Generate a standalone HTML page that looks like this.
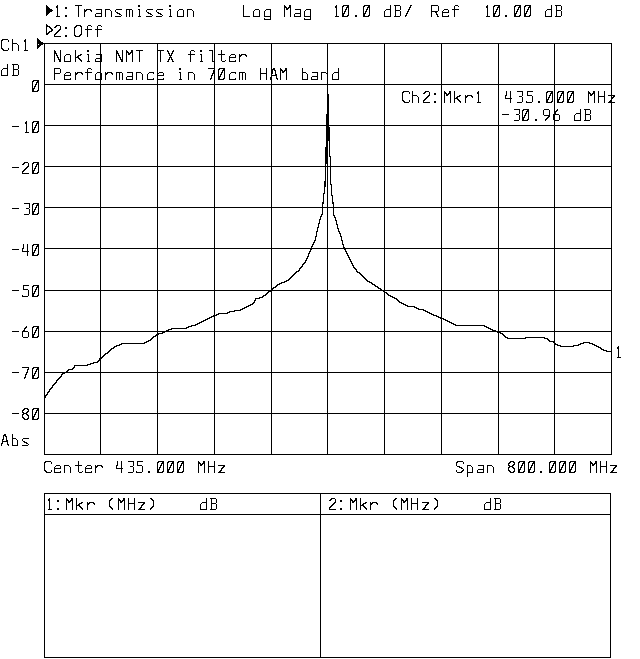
<!DOCTYPE html>
<html lang="en"><head><meta charset="utf-8"><title>Nokia NMT TX filter - Transmission Log Mag</title>
<style>
html,body{margin:0;padding:0;background:#fff}
body{width:640px;height:659px;overflow:hidden;position:relative;font-family:"Liberation Mono",monospace}
svg{position:absolute;left:0;top:0;display:block}
.t{position:absolute;margin:0;white-space:pre;font-size:17px;line-height:14px;height:14px;color:transparent;letter-spacing:0}
</style></head><body>
<svg width="640" height="659" viewBox="0 0 640 659" shape-rendering="crispEdges">
<defs>
<path id="g1" d="M4 0h2v1h-2zM3 1h2v1h-2zM2 2h2v1h-2zM2 3h1v1h-1zM2 4h1v1h-1zM2 5h1v1h-1zM2 6h1v1h-1zM2 7h1v1h-1zM2 8h2v1h-2zM3 9h2v1h-2zM4 10h2v1h-2zM5 11h1v1h-1z"/>
<path id="g2" d="M2 0h2v1h-2zM3 1h2v1h-2zM4 2h2v1h-2zM5 3h1v1h-1zM5 4h1v1h-1zM5 5h1v1h-1zM5 6h1v1h-1zM5 7h1v1h-1zM4 8h2v1h-2zM3 9h2v1h-2zM2 10h2v1h-2zM2 11h1v1h-1z"/>
<path id="g3" d="M0 5h7v1h-7z"/>
<path id="g4" d="M2 10h2v1h-2zM2 11h2v1h-2z"/>
<path id="g5" d="M5 0h2v1h-2zM5 1h1v1h-1zM4 2h2v1h-2zM4 3h1v1h-1zM3 4h2v1h-2zM3 5h1v1h-1zM2 6h2v1h-2zM2 7h1v1h-1zM1 8h2v1h-2zM1 9h1v1h-1zM0 10h2v1h-2zM0 11h1v1h-1z"/>
<path id="g6" d="M1 0h6v1h-6zM0 1h2v1h-2zM5 1h2v1h-2zM0 2h1v1h-1zM4 2h3v1h-3zM0 3h1v1h-1zM4 3h1v1h-1zM6 3h1v1h-1zM0 4h1v1h-1zM3 4h2v1h-2zM6 4h1v1h-1zM0 5h1v1h-1zM3 5h1v1h-1zM6 5h1v1h-1zM0 6h1v1h-1zM2 6h2v1h-2zM6 6h1v1h-1zM0 7h1v1h-1zM2 7h1v1h-1zM6 7h1v1h-1zM0 8h3v1h-3zM6 8h1v1h-1zM0 9h2v1h-2zM6 9h1v1h-1zM0 10h2v1h-2zM5 10h2v1h-2zM0 11h6v1h-6z"/>
<path id="g7" d="M3 0h1v1h-1zM2 1h2v1h-2zM2 2h2v1h-2zM3 3h1v1h-1zM3 4h1v1h-1zM3 5h1v1h-1zM3 6h1v1h-1zM3 7h1v1h-1zM3 8h1v1h-1zM3 9h1v1h-1zM3 10h1v1h-1zM2 11h4v1h-4z"/>
<path id="g8" d="M2 0h4v1h-4zM1 1h2v1h-2zM6 1h1v1h-1zM0 2h2v1h-2zM6 2h1v1h-1zM6 3h1v1h-1zM5 4h2v1h-2zM4 5h2v1h-2zM3 6h2v1h-2zM2 7h2v1h-2zM1 8h2v1h-2zM0 9h2v1h-2zM0 10h1v1h-1zM0 11h7v1h-7z"/>
<path id="g9" d="M2 0h6v1h-6zM7 1h1v1h-1zM7 2h1v1h-1zM7 3h1v1h-1zM7 4h1v1h-1zM4 5h3v1h-3zM7 6h1v1h-1zM7 7h1v1h-1zM7 8h1v1h-1zM7 9h1v1h-1zM7 10h1v1h-1zM2 11h5v1h-5z"/>
<path id="g10" d="M1 0h1v1h-1zM5 0h1v1h-1zM1 1h1v1h-1zM5 1h1v1h-1zM1 2h1v1h-1zM5 2h1v1h-1zM1 3h1v1h-1zM5 3h1v1h-1zM0 4h2v1h-2zM5 4h1v1h-1zM0 5h1v1h-1zM5 5h1v1h-1zM0 6h1v1h-1zM5 6h1v1h-1zM0 7h7v1h-7zM5 8h1v1h-1zM5 9h1v1h-1zM5 10h1v1h-1zM5 11h1v1h-1z"/>
<path id="g11" d="M1 0h6v1h-6zM1 1h1v1h-1zM1 2h1v1h-1zM1 3h1v1h-1zM1 4h5v1h-5zM6 5h1v1h-1zM6 6h1v1h-1zM6 7h1v1h-1zM6 8h1v1h-1zM6 9h1v1h-1zM0 10h1v1h-1zM6 10h1v1h-1zM0 11h6v1h-6z"/>
<path id="g12" d="M4 0h1v1h-1zM3 1h2v1h-2zM2 2h2v1h-2zM2 3h1v1h-1zM1 4h2v1h-2zM0 5h6v1h-6zM0 6h1v1h-1zM6 6h1v1h-1zM0 7h1v1h-1zM6 7h1v1h-1zM0 8h1v1h-1zM6 8h1v1h-1zM0 9h1v1h-1zM6 9h1v1h-1zM0 10h1v1h-1zM6 10h1v1h-1zM1 11h5v1h-5z"/>
<path id="g13" d="M0 0h7v1h-7zM6 1h1v1h-1zM5 2h2v1h-2zM5 3h1v1h-1zM5 4h1v1h-1zM4 5h2v1h-2zM4 6h1v1h-1zM3 7h2v1h-2zM3 8h1v1h-1zM3 9h1v1h-1zM2 10h2v1h-2zM2 11h1v1h-1z"/>
<path id="g14" d="M2 0h4v1h-4zM1 1h2v1h-2zM5 1h2v1h-2zM0 2h2v1h-2zM6 2h1v1h-1zM0 3h1v1h-1zM5 3h2v1h-2zM0 4h2v1h-2zM4 4h2v1h-2zM1 5h4v1h-4zM0 6h2v1h-2zM4 6h2v1h-2zM0 7h1v1h-1zM5 7h2v1h-2zM0 8h1v1h-1zM6 8h1v1h-1zM0 9h2v1h-2zM6 9h1v1h-1zM1 10h2v1h-2zM5 10h2v1h-2zM2 11h4v1h-4z"/>
<path id="g15" d="M1 0h5v1h-5zM0 1h1v1h-1zM6 1h1v1h-1zM0 2h1v1h-1zM6 2h1v1h-1zM0 3h1v1h-1zM6 3h1v1h-1zM0 4h1v1h-1zM6 4h1v1h-1zM0 5h1v1h-1zM6 5h1v1h-1zM1 6h6v1h-6zM5 7h2v1h-2zM4 8h2v1h-2zM3 9h2v1h-2zM2 10h2v1h-2zM2 11h1v1h-1z"/>
<path id="g16" d="M1 2h2v1h-2zM1 3h2v1h-2zM1 10h2v1h-2zM1 11h2v1h-2z"/>
<path id="g17" d="M3 0h2v1h-2zM2 1h3v1h-3zM2 2h1v1h-1zM4 2h2v1h-2zM2 3h1v1h-1zM5 3h1v1h-1zM2 4h1v1h-1zM5 4h1v1h-1zM1 5h2v1h-2zM5 5h1v1h-1zM1 6h1v1h-1zM5 6h2v1h-2zM1 7h6v1h-6zM1 8h1v1h-1zM6 8h1v1h-1zM0 9h2v1h-2zM6 9h1v1h-1zM0 10h1v1h-1zM6 10h2v1h-2zM0 11h1v1h-1zM7 11h1v1h-1z"/>
<path id="g18" d="M0 0h6v1h-6zM1 1h1v1h-1zM6 1h1v1h-1zM1 2h1v1h-1zM6 2h1v1h-1zM1 3h1v1h-1zM6 3h1v1h-1zM1 4h1v1h-1zM6 4h1v1h-1zM1 5h5v1h-5zM1 6h1v1h-1zM6 6h1v1h-1zM1 7h1v1h-1zM6 7h1v1h-1zM1 8h1v1h-1zM6 8h1v1h-1zM1 9h1v1h-1zM6 9h1v1h-1zM1 10h1v1h-1zM6 10h1v1h-1zM0 11h6v1h-6z"/>
<path id="g19" d="M1 0h6v1h-6zM0 1h2v1h-2zM7 1h1v1h-1zM0 2h1v1h-1zM7 2h1v1h-1zM0 3h1v1h-1zM0 4h1v1h-1zM0 5h1v1h-1zM0 6h1v1h-1zM0 7h1v1h-1zM0 8h1v1h-1zM0 9h2v1h-2zM7 9h1v1h-1zM1 10h2v1h-2zM7 10h1v1h-1zM2 11h5v1h-5z"/>
<path id="g20" d="M0 0h1v1h-1zM6 0h1v1h-1zM0 1h1v1h-1zM6 1h1v1h-1zM0 2h1v1h-1zM6 2h1v1h-1zM0 3h1v1h-1zM6 3h1v1h-1zM0 4h1v1h-1zM6 4h1v1h-1zM0 5h7v1h-7zM0 6h1v1h-1zM6 6h1v1h-1zM0 7h1v1h-1zM6 7h1v1h-1zM0 8h1v1h-1zM6 8h1v1h-1zM0 9h1v1h-1zM6 9h1v1h-1zM0 10h1v1h-1zM6 10h1v1h-1zM0 11h1v1h-1zM6 11h1v1h-1z"/>
<path id="g21" d="M0 0h1v1h-1zM0 1h1v1h-1zM0 2h1v1h-1zM0 3h1v1h-1zM0 4h1v1h-1zM0 5h1v1h-1zM0 6h1v1h-1zM0 7h1v1h-1zM0 8h1v1h-1zM0 9h1v1h-1zM0 10h1v1h-1zM0 11h7v1h-7z"/>
<path id="g22" d="M0 0h1v1h-1zM5 0h2v1h-2zM0 1h2v1h-2zM5 1h2v1h-2zM0 2h3v1h-3zM4 2h3v1h-3zM0 3h1v1h-1zM2 3h3v1h-3zM6 3h1v1h-1zM0 4h1v1h-1zM2 4h2v1h-2zM6 4h1v1h-1zM0 5h1v1h-1zM6 5h1v1h-1zM0 6h1v1h-1zM6 6h1v1h-1zM0 7h1v1h-1zM6 7h1v1h-1zM0 8h1v1h-1zM6 8h1v1h-1zM0 9h1v1h-1zM6 9h1v1h-1zM0 10h1v1h-1zM6 10h1v1h-1zM0 11h1v1h-1zM6 11h1v1h-1z"/>
<path id="g23" d="M0 0h1v1h-1zM6 0h1v1h-1zM0 1h2v1h-2zM6 1h1v1h-1zM0 2h2v1h-2zM6 2h1v1h-1zM0 3h3v1h-3zM6 3h1v1h-1zM0 4h1v1h-1zM2 4h1v1h-1zM6 4h1v1h-1zM0 5h1v1h-1zM2 5h2v1h-2zM6 5h1v1h-1zM0 6h1v1h-1zM3 6h1v1h-1zM6 6h1v1h-1zM0 7h1v1h-1zM3 7h2v1h-2zM6 7h1v1h-1zM0 8h1v1h-1zM4 8h1v1h-1zM6 8h1v1h-1zM0 9h1v1h-1zM4 9h3v1h-3zM0 10h1v1h-1zM5 10h2v1h-2zM0 11h1v1h-1zM5 11h2v1h-2z"/>
<path id="g24" d="M2 0h5v1h-5zM1 1h2v1h-2zM6 1h2v1h-2zM0 2h2v1h-2zM7 2h1v1h-1zM0 3h1v1h-1zM7 3h1v1h-1zM0 4h1v1h-1zM7 4h1v1h-1zM0 5h1v1h-1zM7 5h1v1h-1zM0 6h1v1h-1zM7 6h1v1h-1zM0 7h1v1h-1zM7 7h1v1h-1zM0 8h1v1h-1zM7 8h1v1h-1zM0 9h1v1h-1zM6 9h2v1h-2zM0 10h2v1h-2zM5 10h2v1h-2zM1 11h5v1h-5z"/>
<path id="g25" d="M0 0h6v1h-6zM0 1h1v1h-1zM6 1h1v1h-1zM0 2h1v1h-1zM6 2h1v1h-1zM0 3h1v1h-1zM6 3h1v1h-1zM0 4h1v1h-1zM6 4h1v1h-1zM0 5h6v1h-6zM0 6h1v1h-1zM0 7h1v1h-1zM0 8h1v1h-1zM0 9h1v1h-1zM0 10h1v1h-1zM0 11h1v1h-1z"/>
<path id="g26" d="M0 0h7v1h-7zM0 1h1v1h-1zM7 1h1v1h-1zM0 2h1v1h-1zM7 2h1v1h-1zM0 3h1v1h-1zM7 3h1v1h-1zM0 4h1v1h-1zM7 4h1v1h-1zM0 5h1v1h-1zM7 5h1v1h-1zM0 6h7v1h-7zM0 7h1v1h-1zM4 7h2v1h-2zM0 8h1v1h-1zM5 8h1v1h-1zM0 9h1v1h-1zM5 9h2v1h-2zM0 10h1v1h-1zM6 10h1v1h-1zM0 11h1v1h-1zM6 11h2v1h-2z"/>
<path id="g27" d="M1 0h6v1h-6zM0 1h2v1h-2zM7 1h1v1h-1zM0 2h1v1h-1zM7 2h1v1h-1zM0 3h1v1h-1zM0 4h1v1h-1zM1 5h3v1h-3zM3 6h3v1h-3zM5 7h2v1h-2zM7 8h1v1h-1zM0 9h1v1h-1zM6 9h2v1h-2zM0 10h1v1h-1zM5 10h2v1h-2zM1 11h5v1h-5z"/>
<path id="g28" d="M0 0h7v1h-7zM3 1h1v1h-1zM3 2h1v1h-1zM3 3h1v1h-1zM3 4h1v1h-1zM3 5h1v1h-1zM3 6h1v1h-1zM3 7h1v1h-1zM3 8h1v1h-1zM3 9h1v1h-1zM3 10h1v1h-1zM3 11h1v1h-1z"/>
<path id="g29" d="M0 0h1v1h-1zM6 0h1v1h-1zM0 1h2v1h-2zM5 1h2v1h-2zM1 2h1v1h-1zM5 2h1v1h-1zM1 3h2v1h-2zM4 3h2v1h-2zM2 4h1v1h-1zM4 4h1v1h-1zM2 5h3v1h-3zM3 6h1v1h-1zM2 7h3v1h-3zM2 8h1v1h-1zM4 8h1v1h-1zM1 9h2v1h-2zM4 9h2v1h-2zM1 10h1v1h-1zM5 10h1v1h-1zM0 11h2v1h-2zM5 11h2v1h-2z"/>
<path id="g30" d="M1 4h6v1h-6zM6 5h1v1h-1zM6 6h1v1h-1zM6 7h1v1h-1zM1 8h6v1h-6zM0 9h1v1h-1zM6 9h1v1h-1zM0 10h1v1h-1zM6 10h1v1h-1zM0 11h7v1h-7z"/>
<path id="g31" d="M1 0h1v1h-1zM1 1h1v1h-1zM1 2h1v1h-1zM1 3h1v1h-1zM1 4h4v1h-4zM1 5h1v1h-1zM5 5h1v1h-1zM1 6h1v1h-1zM6 6h1v1h-1zM1 7h1v1h-1zM6 7h1v1h-1zM1 8h1v1h-1zM6 8h1v1h-1zM1 9h1v1h-1zM6 9h1v1h-1zM1 10h1v1h-1zM6 10h1v1h-1zM1 11h6v1h-6z"/>
<path id="g32" d="M2 4h5v1h-5zM1 5h1v1h-1zM6 5h1v1h-1zM0 6h1v1h-1zM0 7h1v1h-1zM0 8h1v1h-1zM0 9h1v1h-1zM0 10h1v1h-1zM6 10h1v1h-1zM0 11h7v1h-7z"/>
<path id="g33" d="M6 0h1v1h-1zM6 1h1v1h-1zM6 2h1v1h-1zM6 3h1v1h-1zM2 4h5v1h-5zM1 5h1v1h-1zM6 5h1v1h-1zM0 6h1v1h-1zM6 6h1v1h-1zM0 7h1v1h-1zM6 7h1v1h-1zM0 8h1v1h-1zM6 8h1v1h-1zM0 9h1v1h-1zM6 9h1v1h-1zM0 10h1v1h-1zM6 10h1v1h-1zM0 11h7v1h-7z"/>
<path id="g34" d="M2 4h4v1h-4zM1 5h1v1h-1zM6 5h1v1h-1zM0 6h1v1h-1zM6 6h1v1h-1zM0 7h7v1h-7zM0 8h1v1h-1zM0 9h1v1h-1zM0 10h1v1h-1zM6 10h1v1h-1zM0 11h7v1h-7z"/>
<path id="g35" d="M3 0h3v1h-3zM2 1h1v1h-1zM6 1h1v1h-1zM2 2h1v1h-1zM2 3h1v1h-1zM0 4h7v1h-7zM2 5h1v1h-1zM2 6h1v1h-1zM2 7h1v1h-1zM2 8h1v1h-1zM2 9h1v1h-1zM2 10h1v1h-1zM2 11h1v1h-1z"/>
<path id="g36" d="M2 4h5v1h-5zM1 5h1v1h-1zM6 5h1v1h-1zM0 6h1v1h-1zM6 6h1v1h-1zM0 7h1v1h-1zM6 7h1v1h-1zM0 8h1v1h-1zM6 8h1v1h-1zM0 9h1v1h-1zM6 9h1v1h-1zM0 10h1v1h-1zM6 10h1v1h-1zM0 11h7v1h-7zM6 12h1v1h-1zM0 13h1v1h-1zM6 13h1v1h-1zM0 14h7v1h-7z"/>
<path id="g37" d="M0 0h1v1h-1zM0 1h1v1h-1zM0 2h1v1h-1zM0 3h1v1h-1zM0 4h5v1h-5zM0 5h1v1h-1zM5 5h1v1h-1zM0 6h1v1h-1zM6 6h1v1h-1zM0 7h1v1h-1zM6 7h1v1h-1zM0 8h1v1h-1zM6 8h1v1h-1zM0 9h1v1h-1zM6 9h1v1h-1zM0 10h1v1h-1zM6 10h1v1h-1zM0 11h1v1h-1zM6 11h1v1h-1z"/>
<path id="g38" d="M2 0h2v1h-2zM2 1h2v1h-2zM2 4h2v1h-2zM3 5h1v1h-1zM3 6h1v1h-1zM3 7h1v1h-1zM3 8h1v1h-1zM3 9h1v1h-1zM3 10h1v1h-1zM2 11h3v1h-3z"/>
<path id="g39" d="M0 0h1v1h-1zM0 1h1v1h-1zM0 2h1v1h-1zM0 3h1v1h-1zM0 4h1v1h-1zM5 4h2v1h-2zM0 5h1v1h-1zM3 5h3v1h-3zM0 6h1v1h-1zM2 6h2v1h-2zM0 7h4v1h-4zM0 8h1v1h-1zM3 8h2v1h-2zM0 9h1v1h-1zM4 9h2v1h-2zM0 10h1v1h-1zM5 10h2v1h-2zM0 11h1v1h-1zM6 11h1v1h-1z"/>
<path id="g40" d="M1 0h4v1h-4zM4 1h1v1h-1zM4 2h1v1h-1zM4 3h1v1h-1zM4 4h1v1h-1zM4 5h1v1h-1zM4 6h1v1h-1zM4 7h1v1h-1zM4 8h1v1h-1zM4 9h1v1h-1zM4 10h1v1h-1zM4 11h3v1h-3z"/>
<path id="g41" d="M0 4h6v1h-6zM0 5h1v1h-1zM3 5h1v1h-1zM6 5h1v1h-1zM0 6h1v1h-1zM3 6h1v1h-1zM6 6h1v1h-1zM0 7h1v1h-1zM3 7h1v1h-1zM6 7h1v1h-1zM0 8h1v1h-1zM3 8h1v1h-1zM6 8h1v1h-1zM0 9h1v1h-1zM3 9h1v1h-1zM6 9h1v1h-1zM0 10h1v1h-1zM3 10h1v1h-1zM6 10h1v1h-1zM0 11h1v1h-1zM3 11h1v1h-1zM6 11h1v1h-1z"/>
<path id="g42" d="M0 4h5v1h-5zM0 5h1v1h-1zM5 5h1v1h-1zM0 6h1v1h-1zM6 6h1v1h-1zM0 7h1v1h-1zM6 7h1v1h-1zM0 8h1v1h-1zM6 8h1v1h-1zM0 9h1v1h-1zM6 9h1v1h-1zM0 10h1v1h-1zM6 10h1v1h-1zM0 11h1v1h-1zM6 11h1v1h-1z"/>
<path id="g43" d="M2 4h4v1h-4zM1 5h1v1h-1zM6 5h1v1h-1zM0 6h1v1h-1zM6 6h1v1h-1zM0 7h1v1h-1zM6 7h1v1h-1zM0 8h1v1h-1zM6 8h1v1h-1zM0 9h1v1h-1zM6 9h1v1h-1zM0 10h1v1h-1zM6 10h1v1h-1zM0 11h7v1h-7z"/>
<path id="g44" d="M1 4h4v1h-4zM1 5h1v1h-1zM5 5h1v1h-1zM1 6h1v1h-1zM6 6h1v1h-1zM1 7h1v1h-1zM6 7h1v1h-1zM1 8h1v1h-1zM6 8h1v1h-1zM1 9h1v1h-1zM6 9h1v1h-1zM1 10h1v1h-1zM6 10h1v1h-1zM1 11h6v1h-6zM1 12h1v1h-1zM1 13h1v1h-1zM1 14h1v1h-1zM1 15h1v1h-1z"/>
<path id="g45" d="M0 4h1v1h-1zM2 4h5v1h-5zM0 5h3v1h-3zM6 5h2v1h-2zM0 6h2v1h-2zM7 6h1v1h-1zM0 7h1v1h-1zM0 8h1v1h-1zM0 9h1v1h-1zM0 10h1v1h-1zM0 11h1v1h-1z"/>
<path id="g46" d="M1 4h6v1h-6zM0 5h1v1h-1zM0 6h1v1h-1zM1 7h2v1h-2zM2 8h3v1h-3zM4 9h2v1h-2zM6 10h1v1h-1zM0 11h6v1h-6z"/>
<path id="g47" d="M3 0h1v1h-1zM3 1h1v1h-1zM3 2h1v1h-1zM3 3h1v1h-1zM0 4h7v1h-7zM3 5h1v1h-1zM3 6h1v1h-1zM3 7h1v1h-1zM3 8h1v1h-1zM3 9h1v1h-1zM3 10h1v1h-1zM7 10h1v1h-1zM4 11h3v1h-3z"/>
<path id="g48" d="M0 4h7v1h-7zM5 5h2v1h-2zM4 6h2v1h-2zM3 7h2v1h-2zM3 8h1v1h-1zM2 9h2v1h-2zM1 10h2v1h-2zM0 11h7v1h-7z"/>
</defs>
<rect width="640" height="659" fill="#fff"/>
<path fill="#000" d="M44 43h568v1h-568zM44 84h568v1h-568zM44 125h568v1h-568zM44 166h568v1h-568zM44 207h568v1h-568zM44 248h568v1h-568zM44 290h568v1h-568zM44 331h568v1h-568zM44 372h568v1h-568zM44 413h568v1h-568zM44 454h568v1h-568zM44 43h1v412h-1zM100 43h1v412h-1zM157 43h1v412h-1zM214 43h1v412h-1zM271 43h1v412h-1zM327 43h1v412h-1zM384 43h1v412h-1zM441 43h1v412h-1zM498 43h1v412h-1zM554 43h1v412h-1zM611 43h1v412h-1z"/>
<path fill="#000" d="M44 493h567v1h-567zM44 514h567v1h-567zM44 657h567v1h-567zM44 493h1v165h-1zM320 493h1v165h-1zM610 493h1v165h-1z"/>
<path fill="#000" d="M322 213h1v1h-1zM333 213h1v1h-1zM321 214h2v1h-2zM333 214h1v1h-1zM321 215h1v1h-1zM333 215h2v1h-2zM320 216h2v1h-2zM334 216h1v1h-1zM320 217h1v1h-1zM334 217h2v1h-2zM320 218h1v1h-1zM335 218h1v1h-1zM319 219h2v1h-2zM335 219h1v1h-1zM319 220h1v1h-1zM335 220h2v1h-2zM319 221h1v1h-1zM336 221h1v1h-1zM319 222h1v1h-1zM336 222h1v1h-1zM318 223h2v1h-2zM336 223h1v1h-1zM318 224h1v1h-1zM336 224h2v1h-2zM318 225h1v1h-1zM337 225h1v1h-1zM318 226h1v1h-1zM337 226h1v1h-1zM317 227h2v1h-2zM337 227h1v1h-1zM317 228h1v1h-1zM337 228h2v1h-2zM317 229h1v1h-1zM338 229h1v1h-1zM317 230h1v1h-1zM338 230h1v1h-1zM316 231h2v1h-2zM338 231h2v1h-2zM316 232h1v1h-1zM339 232h1v1h-1zM316 233h1v1h-1zM339 233h2v1h-2zM316 234h1v1h-1zM340 234h1v1h-1zM316 235h1v1h-1zM340 235h1v1h-1zM315 236h2v1h-2zM340 236h2v1h-2zM315 237h1v1h-1zM341 237h1v1h-1zM315 238h1v1h-1zM341 238h1v1h-1zM315 239h1v1h-1zM341 239h1v1h-1zM314 240h2v1h-2zM341 240h2v1h-2zM314 241h1v1h-1zM342 241h1v1h-1zM313 242h2v1h-2zM342 242h1v1h-1zM313 243h1v1h-1zM342 243h1v1h-1zM312 244h2v1h-2zM342 244h2v1h-2zM312 245h1v1h-1zM343 245h1v1h-1zM311 246h2v1h-2zM343 246h1v1h-1zM311 247h1v1h-1zM343 247h2v1h-2zM311 248h1v1h-1zM344 248h1v1h-1zM310 249h2v1h-2zM344 249h2v1h-2zM310 250h1v1h-1zM345 250h1v1h-1zM309 251h2v1h-2zM345 251h2v1h-2zM309 252h1v1h-1zM346 252h1v1h-1zM308 253h2v1h-2zM346 253h2v1h-2zM308 254h1v1h-1zM347 254h1v1h-1zM308 255h1v1h-1zM347 255h2v1h-2zM307 256h2v1h-2zM348 256h1v1h-1zM307 257h1v1h-1zM348 257h2v1h-2zM306 258h2v1h-2zM349 258h1v1h-1zM306 259h1v1h-1zM349 259h2v1h-2zM305 260h2v1h-2zM350 260h1v1h-1zM305 261h1v1h-1zM350 261h2v1h-2zM304 262h2v1h-2zM351 262h1v1h-1zM303 263h2v1h-2zM351 263h2v1h-2zM302 264h2v1h-2zM352 264h1v1h-1zM302 265h1v1h-1zM352 265h2v1h-2zM301 266h2v1h-2zM353 266h1v1h-1zM300 267h2v1h-2zM353 267h2v1h-2zM299 268h2v1h-2zM354 268h2v1h-2zM299 269h1v1h-1zM355 269h2v1h-2zM298 270h2v1h-2zM356 270h1v1h-1zM296 271h3v1h-3zM356 271h2v1h-2zM295 272h2v1h-2zM357 272h3v1h-3zM294 273h2v1h-2zM359 273h2v1h-2zM293 274h2v1h-2zM360 274h2v1h-2zM292 275h2v1h-2zM361 275h2v1h-2zM291 276h2v1h-2zM362 276h2v1h-2zM290 277h2v1h-2zM363 277h2v1h-2zM289 278h2v1h-2zM364 278h2v1h-2zM288 279h2v1h-2zM365 279h2v1h-2zM286 280h3v1h-3zM366 280h2v1h-2zM284 281h3v1h-3zM367 281h3v1h-3zM281 282h4v1h-4zM369 282h3v1h-3zM279 283h3v1h-3zM371 283h2v1h-2zM277 284h3v1h-3zM372 284h3v1h-3zM276 285h2v1h-2zM374 285h2v1h-2zM275 286h2v1h-2zM375 286h3v1h-3zM273 287h3v1h-3zM377 287h2v1h-2zM272 288h2v1h-2zM378 288h3v1h-3zM271 289h2v1h-2zM380 289h2v1h-2zM270 290h2v1h-2zM381 290h3v1h-3zM268 291h3v1h-3zM383 291h2v1h-2zM267 292h2v1h-2zM384 292h3v1h-3zM266 293h2v1h-2zM386 293h2v1h-2zM265 294h2v1h-2zM387 294h2v1h-2zM263 295h3v1h-3zM388 295h3v1h-3zM262 296h2v1h-2zM390 296h3v1h-3zM259 297h4v1h-4zM392 297h3v1h-3zM255 298h5v1h-5zM394 298h3v1h-3zM255 299h1v1h-1zM396 299h2v1h-2zM254 300h2v1h-2zM397 300h2v1h-2zM254 301h1v1h-1zM398 301h2v1h-2zM253 302h2v1h-2zM399 302h3v1h-3zM252 303h2v1h-2zM401 303h3v1h-3zM250 304h3v1h-3zM403 304h3v1h-3zM248 305h3v1h-3zM405 305h3v1h-3zM246 306h3v1h-3zM407 306h8v1h-8zM244 307h3v1h-3zM414 307h3v1h-3zM242 308h3v1h-3zM416 308h3v1h-3zM240 309h3v1h-3zM418 309h6v1h-6zM234 310h7v1h-7zM423 310h3v1h-3zM229 311h6v1h-6zM425 311h3v1h-3zM227 312h3v1h-3zM427 312h3v1h-3zM218 313h10v1h-10zM429 313h3v1h-3zM216 314h3v1h-3zM431 314h3v1h-3zM213 315h4v1h-4zM433 315h4v1h-4zM211 316h3v1h-3zM436 316h3v1h-3zM209 317h3v1h-3zM438 317h3v1h-3zM207 318h3v1h-3zM440 318h4v1h-4zM205 319h3v1h-3zM443 319h3v1h-3zM203 320h3v1h-3zM445 320h3v1h-3zM201 321h3v1h-3zM447 321h3v1h-3zM199 322h3v1h-3zM449 322h3v1h-3zM197 323h3v1h-3zM451 323h3v1h-3zM195 324h3v1h-3zM453 324h3v1h-3zM191 325h5v1h-5zM455 325h30v1h-30zM188 326h4v1h-4zM484 326h3v1h-3zM186 327h3v1h-3zM486 327h3v1h-3zM171 328h16v1h-16zM488 328h3v1h-3zM168 329h4v1h-4zM490 329h3v1h-3zM166 330h3v1h-3zM492 330h4v1h-4zM164 331h3v1h-3zM495 331h3v1h-3zM162 332h3v1h-3zM497 332h4v1h-4zM158 333h5v1h-5zM500 333h3v1h-3zM156 334h3v1h-3zM502 334h2v1h-2zM155 335h2v1h-2zM503 335h2v1h-2zM153 336h3v1h-3zM504 336h2v1h-2zM152 337h2v1h-2zM505 337h3v1h-3zM525 337h20v1h-20zM151 338h2v1h-2zM507 338h19v1h-19zM544 338h4v1h-4zM150 339h2v1h-2zM547 339h2v1h-2zM148 340h3v1h-3zM548 340h2v1h-2zM146 341h3v1h-3zM549 341h5v1h-5zM144 342h3v1h-3zM553 342h2v1h-2zM583 342h7v1h-7zM121 343h24v1h-24zM554 343h2v1h-2zM580 343h4v1h-4zM589 343h4v1h-4zM119 344h3v1h-3zM555 344h3v1h-3zM578 344h3v1h-3zM592 344h3v1h-3zM116 345h4v1h-4zM557 345h4v1h-4zM573 345h6v1h-6zM594 345h3v1h-3zM114 346h3v1h-3zM560 346h14v1h-14zM596 346h3v1h-3zM113 347h2v1h-2zM598 347h3v1h-3zM111 348h3v1h-3zM600 348h2v1h-2zM110 349h2v1h-2zM601 349h3v1h-3zM109 350h2v1h-2zM603 350h4v1h-4zM108 351h2v1h-2zM606 351h6v1h-6zM107 352h2v1h-2zM105 353h3v1h-3zM104 354h2v1h-2zM103 355h2v1h-2zM102 356h2v1h-2zM101 357h2v1h-2zM99 358h3v1h-3zM99 359h1v1h-1zM98 360h2v1h-2zM97 361h2v1h-2zM93 362h5v1h-5zM90 363h4v1h-4zM87 364h4v1h-4zM74 365h14v1h-14zM74 366h1v1h-1zM73 367h2v1h-2zM72 368h2v1h-2zM68 369h5v1h-5zM67 370h2v1h-2zM66 371h2v1h-2zM64 372h3v1h-3zM62 373h3v1h-3zM61 374h2v1h-2zM61 375h1v1h-1zM60 376h2v1h-2zM59 377h2v1h-2zM58 378h2v1h-2zM57 379h2v1h-2zM56 380h2v1h-2zM56 381h1v1h-1zM55 382h2v1h-2zM54 383h2v1h-2zM53 384h2v1h-2zM52 385h2v1h-2zM52 386h1v1h-1zM51 387h2v1h-2zM50 388h2v1h-2zM49 389h2v1h-2zM49 390h1v1h-1zM48 391h2v1h-2zM47 392h2v1h-2zM47 393h1v1h-1zM46 394h2v1h-2zM45 395h2v1h-2zM45 396h1v1h-1zM44 397h2v1h-2zM44 398h1v1h-1z"/>
<path fill="#000" d="M322 202h1v12h-1zM323 193h1v11h-1zM324 181h1v13h-1zM325 147h1v40h-1zM326 114h1v50h-1zM328 94h1v47h-1zM329 127h1v30h-1zM330 156h1v29h-1zM331 184h1v12h-1zM332 195h1v9h-1zM333 202h1v12h-1z"/>
<path fill="#000" d="M46 5v11l7-5.5z"/>
<path fill="#000" d="M46 24h1v1h-1zM46 25h2v1h-2zM46 26h4v1h-4zM46 27h1v1h-1zM49 27h2v1h-2zM46 28h1v1h-1zM50 28h2v1h-2zM46 29h1v1h-1zM51 29h2v1h-2zM46 30h1v1h-1zM51 30h2v1h-2zM46 31h1v1h-1zM49 31h3v1h-3zM46 32h1v1h-1zM48 32h2v1h-2zM46 33h3v1h-3zM46 34h2v1h-2z"/>
<path fill="#000" d="M37 38v11l7-5.5z"/><rect x="38" y="44" width="1" height="1" fill="#fff"/>
<g fill="#000">
<use href="#g7" x="54" y="5"/>
<use href="#g16" x="64" y="5"/>
<use href="#g28" x="75" y="5"/>
<use href="#g45" x="84" y="5"/>
<use href="#g30" x="95" y="5"/>
<use href="#g42" x="105" y="5"/>
<use href="#g46" x="115" y="5"/>
<use href="#g41" x="126" y="5"/>
<use href="#g38" x="136" y="5"/>
<use href="#g46" x="146" y="5"/>
<use href="#g46" x="156" y="5"/>
<use href="#g38" x="167" y="5"/>
<use href="#g43" x="177" y="5"/>
<use href="#g42" x="187" y="5"/>
<use href="#g21" x="243" y="5"/>
<use href="#g43" x="253" y="5"/>
<use href="#g36" x="264" y="5"/>
<use href="#g22" x="284" y="5"/>
<use href="#g30" x="294" y="5"/>
<use href="#g36" x="304" y="5"/>
<use href="#g7" x="333" y="5"/>
<use href="#g6" x="342" y="5"/>
<use href="#g4" x="353" y="5"/>
<use href="#g6" x="363" y="5"/>
<use href="#g33" x="384" y="5"/>
<use href="#g18" x="394" y="5"/>
<use href="#g5" x="405" y="5"/>
<use href="#g26" x="431" y="5"/>
<use href="#g34" x="442" y="5"/>
<use href="#g35" x="452" y="5"/>
<use href="#g7" x="484" y="5"/>
<use href="#g6" x="493" y="5"/>
<use href="#g4" x="503" y="5"/>
<use href="#g6" x="514" y="5"/>
<use href="#g6" x="524" y="5"/>
<use href="#g33" x="545" y="5"/>
<use href="#g18" x="555" y="5"/>
<use href="#g8" x="54" y="25"/>
<use href="#g16" x="64" y="25"/>
<use href="#g24" x="74" y="25"/>
<use href="#g35" x="85" y="25"/>
<use href="#g35" x="95" y="25"/>
<use href="#g19" x="1" y="39"/>
<use href="#g37" x="12" y="39"/>
<use href="#g7" x="22" y="39"/>
<use href="#g33" x="1" y="64"/>
<use href="#g18" x="12" y="64"/>
<use href="#g23" x="54" y="50"/>
<use href="#g43" x="64" y="50"/>
<use href="#g39" x="75" y="50"/>
<use href="#g38" x="85" y="50"/>
<use href="#g30" x="95" y="50"/>
<use href="#g23" x="116" y="50"/>
<use href="#g22" x="126" y="50"/>
<use href="#g28" x="136" y="50"/>
<use href="#g28" x="157" y="50"/>
<use href="#g29" x="167" y="50"/>
<use href="#g35" x="188" y="50"/>
<use href="#g38" x="198" y="50"/>
<use href="#g40" x="208" y="50"/>
<use href="#g47" x="218" y="50"/>
<use href="#g34" x="229" y="50"/>
<use href="#g45" x="239" y="50"/>
<use href="#g25" x="54" y="68"/>
<use href="#g34" x="64" y="68"/>
<use href="#g45" x="75" y="68"/>
<use href="#g35" x="85" y="68"/>
<use href="#g43" x="95" y="68"/>
<use href="#g45" x="105" y="68"/>
<use href="#g41" x="116" y="68"/>
<use href="#g30" x="126" y="68"/>
<use href="#g42" x="136" y="68"/>
<use href="#g32" x="147" y="68"/>
<use href="#g34" x="157" y="68"/>
<use href="#g38" x="177" y="68"/>
<use href="#g42" x="188" y="68"/>
<use href="#g13" x="208" y="68"/>
<use href="#g6" x="218" y="68"/>
<use href="#g32" x="229" y="68"/>
<use href="#g41" x="239" y="68"/>
<use href="#g20" x="260" y="68"/>
<use href="#g17" x="270" y="68"/>
<use href="#g22" x="280" y="68"/>
<use href="#g31" x="301" y="68"/>
<use href="#g30" x="311" y="68"/>
<use href="#g42" x="321" y="68"/>
<use href="#g33" x="332" y="68"/>
<use href="#g19" x="402" y="91"/>
<use href="#g37" x="412" y="91"/>
<use href="#g8" x="423" y="91"/>
<use href="#g16" x="433" y="91"/>
<use href="#g22" x="444" y="91"/>
<use href="#g39" x="454" y="91"/>
<use href="#g45" x="465" y="91"/>
<use href="#g7" x="475" y="91"/>
<use href="#g10" x="505" y="91"/>
<use href="#g9" x="515" y="91"/>
<use href="#g11" x="526" y="91"/>
<use href="#g4" x="536" y="91"/>
<use href="#g6" x="546" y="91"/>
<use href="#g6" x="557" y="91"/>
<use href="#g6" x="567" y="91"/>
<use href="#g22" x="588" y="91"/>
<use href="#g20" x="598" y="91"/>
<use href="#g48" x="608" y="91"/>
<use href="#g3" x="502" y="109"/>
<use href="#g9" x="512" y="109"/>
<use href="#g6" x="522" y="109"/>
<use href="#g4" x="533" y="109"/>
<use href="#g15" x="543" y="109"/>
<use href="#g12" x="553" y="109"/>
<use href="#g33" x="574" y="109"/>
<use href="#g18" x="584" y="109"/>
<use href="#g17" x="1" y="434"/>
<use href="#g31" x="11" y="434"/>
<use href="#g46" x="22" y="434"/>
<use href="#g19" x="44" y="461"/>
<use href="#g34" x="54" y="461"/>
<use href="#g42" x="64" y="461"/>
<use href="#g47" x="75" y="461"/>
<use href="#g34" x="85" y="461"/>
<use href="#g45" x="95" y="461"/>
<use href="#g10" x="116" y="461"/>
<use href="#g9" x="126" y="461"/>
<use href="#g11" x="136" y="461"/>
<use href="#g4" x="146" y="461"/>
<use href="#g6" x="157" y="461"/>
<use href="#g6" x="167" y="461"/>
<use href="#g6" x="177" y="461"/>
<use href="#g22" x="198" y="461"/>
<use href="#g20" x="208" y="461"/>
<use href="#g48" x="218" y="461"/>
<use href="#g27" x="456" y="461"/>
<use href="#g44" x="466" y="461"/>
<use href="#g30" x="477" y="461"/>
<use href="#g42" x="487" y="461"/>
<use href="#g14" x="508" y="461"/>
<use href="#g6" x="518" y="461"/>
<use href="#g6" x="528" y="461"/>
<use href="#g4" x="538" y="461"/>
<use href="#g6" x="549" y="461"/>
<use href="#g6" x="559" y="461"/>
<use href="#g6" x="569" y="461"/>
<use href="#g22" x="590" y="461"/>
<use href="#g20" x="600" y="461"/>
<use href="#g48" x="610" y="461"/>
<use href="#g7" x="46" y="498"/>
<use href="#g16" x="56" y="498"/>
<use href="#g22" x="66" y="498"/>
<use href="#g39" x="76" y="498"/>
<use href="#g45" x="87" y="498"/>
<use href="#g1" x="107" y="498"/>
<use href="#g22" x="118" y="498"/>
<use href="#g20" x="128" y="498"/>
<use href="#g48" x="138" y="498"/>
<use href="#g2" x="148" y="498"/>
<use href="#g33" x="200" y="498"/>
<use href="#g18" x="210" y="498"/>
<use href="#g8" x="329" y="498"/>
<use href="#g16" x="339" y="498"/>
<use href="#g22" x="350" y="498"/>
<use href="#g39" x="360" y="498"/>
<use href="#g45" x="370" y="498"/>
<use href="#g1" x="391" y="498"/>
<use href="#g22" x="401" y="498"/>
<use href="#g20" x="411" y="498"/>
<use href="#g48" x="422" y="498"/>
<use href="#g2" x="432" y="498"/>
<use href="#g33" x="484" y="498"/>
<use href="#g18" x="494" y="498"/>
<use href="#g7" x="615" y="346"/>
<use href="#g6" x="32" y="80"/>
<use href="#g3" x="12" y="121"/>
<use href="#g7" x="23" y="121"/>
<use href="#g6" x="32" y="121"/>
<use href="#g3" x="12" y="162"/>
<use href="#g8" x="22" y="162"/>
<use href="#g6" x="32" y="162"/>
<use href="#g3" x="12" y="203"/>
<use href="#g9" x="22" y="203"/>
<use href="#g6" x="32" y="203"/>
<use href="#g3" x="12" y="244"/>
<use href="#g10" x="22" y="244"/>
<use href="#g6" x="32" y="244"/>
<use href="#g3" x="12" y="285"/>
<use href="#g11" x="22" y="285"/>
<use href="#g6" x="32" y="285"/>
<use href="#g3" x="12" y="326"/>
<use href="#g12" x="22" y="326"/>
<use href="#g6" x="32" y="326"/>
<use href="#g3" x="12" y="367"/>
<use href="#g13" x="22" y="367"/>
<use href="#g6" x="32" y="367"/>
<use href="#g3" x="12" y="408"/>
<use href="#g14" x="22" y="408"/>
<use href="#g6" x="32" y="408"/>
</g>
</svg>
<p class="t" style="left:53.5px;top:4px">1:Transmission</p>
<p class="t" style="left:243px;top:4px">Log Mag</p>
<p class="t" style="left:331.75px;top:4px">10.0 dB/</p>
<p class="t" style="left:431px;top:4px">Ref</p>
<p class="t" style="left:482.5px;top:4px">10.00 dB</p>
<p class="t" style="left:53.75px;top:24px">2:Off</p>
<p class="t" style="left:1px;top:38px">Ch1</p>
<p class="t" style="left:1px;top:63px">dB</p>
<p class="t" style="left:54px;top:49px">Nokia NMT TX filter</p>
<p class="t" style="left:54px;top:67px">Performance in 70cm HAM band</p>
<p class="t" style="left:402px;top:90px">Ch2:Mkr1</p>
<p class="t" style="left:505px;top:90px">435.000 MHz</p>
<p class="t" style="left:502px;top:108px">-30.96 dB</p>
<p class="t" style="left:1px;top:433px">Abs</p>
<p class="t" style="left:44px;top:460px">Center 435.000 MHz</p>
<p class="t" style="left:456px;top:460px">Span 800.000 MHz</p>
<p class="t" style="left:45.5px;top:497px">1:Mkr (MHz)    dB</p>
<p class="t" style="left:329px;top:497px">2:Mkr (MHz)    dB</p>
<p class="t" style="left:615px;top:345px">1</p>
<p class="t" style="left:32px;top:79px">0</p>
<p class="t" style="left:11.6px;top:120px">-10</p>
<p class="t" style="left:11.6px;top:161px">-20</p>
<p class="t" style="left:11.6px;top:202px">-30</p>
<p class="t" style="left:11.6px;top:243px">-40</p>
<p class="t" style="left:11.6px;top:284px">-50</p>
<p class="t" style="left:11.6px;top:325px">-60</p>
<p class="t" style="left:11.6px;top:366px">-70</p>
<p class="t" style="left:11.6px;top:407px">-80</p>
</body></html>
